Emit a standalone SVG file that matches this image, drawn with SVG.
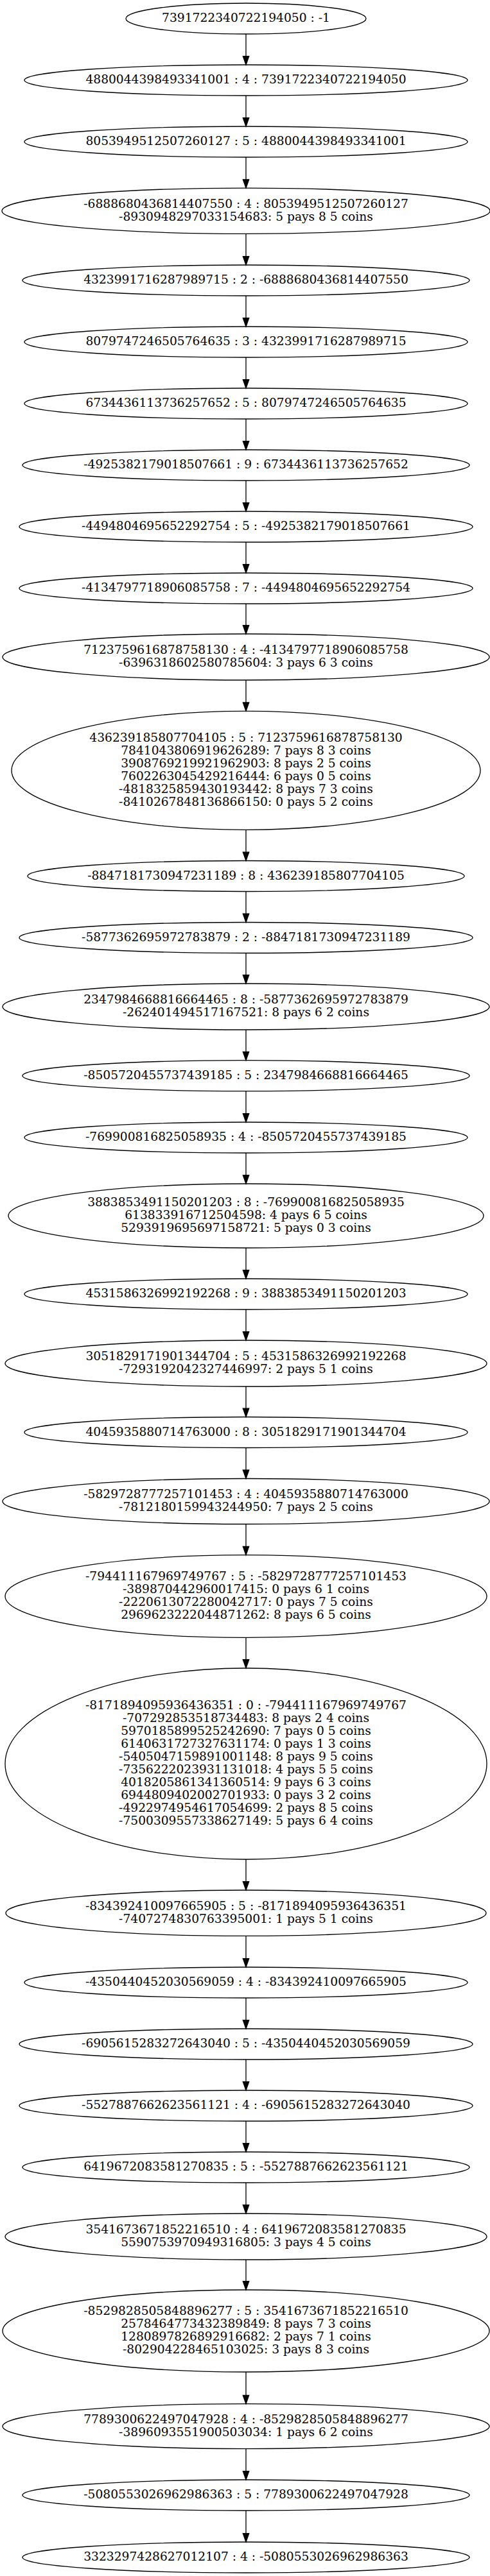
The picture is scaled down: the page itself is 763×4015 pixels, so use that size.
<svg xmlns="http://www.w3.org/2000/svg" width="763" height="4015" viewBox="0 0 763 4015">
<style>
.n ellipse{fill:none;stroke:#000;stroke-width:1.33}
.n text{font-family:"DejaVu Serif","Liberation Serif",serif;font-size:18.67px;text-anchor:middle;fill:#000}
.e path{fill:none;stroke:#000;stroke-width:1.33}
</style>
<defs>
<marker id="ah" markerUnits="userSpaceOnUse" markerWidth="14" markerHeight="10" refX="0" refY="4.67" orient="auto" overflow="visible">
<polygon points="0,0 13.3,4.67 0,9.33" fill="#000" stroke="#000" stroke-width="1.33"/>
</marker>
</defs>
<rect width="763" height="4015" fill="#fff"/>
<g id="edges" class="e">
<path d="M383,53V87.7" marker-end="url(#ah)"/>
<path d="M383,149V183.7" marker-end="url(#ah)"/>
<path d="M383,245V279.8" marker-end="url(#ah)"/>
<path d="M383,364.3V399.7" marker-end="url(#ah)"/>
<path d="M383,461V495.7" marker-end="url(#ah)"/>
<path d="M383,557V591.7" marker-end="url(#ah)"/>
<path d="M383,653V687.7" marker-end="url(#ah)"/>
<path d="M383,749V783.7" marker-end="url(#ah)"/>
<path d="M383,845V879.7" marker-end="url(#ah)"/>
<path d="M383,941V974.7" marker-end="url(#ah)"/>
<path d="M383,1060V1095" marker-end="url(#ah)"/>
<path d="M383,1293.3V1328.2" marker-end="url(#ah)"/>
<path d="M383,1389.5V1424.2" marker-end="url(#ah)"/>
<path d="M383,1485.5V1519.7" marker-end="url(#ah)"/>
<path d="M383,1605V1639.4" marker-end="url(#ah)"/>
<path d="M383,1700.7V1735.7" marker-end="url(#ah)"/>
<path d="M383,1797V1831.7" marker-end="url(#ah)"/>
<path d="M383,1945V1979.7" marker-end="url(#ah)"/>
<path d="M383,2041V2075.7" marker-end="url(#ah)"/>
<path d="M383,2161V2195.2" marker-end="url(#ah)"/>
<path d="M383,2256.5V2291.2" marker-end="url(#ah)"/>
<path d="M383,2375.5V2410.4" marker-end="url(#ah)"/>
<path d="M383,2552.3V2586.7" marker-end="url(#ah)"/>
<path d="M383,2898V2932.7" marker-end="url(#ah)"/>
<path d="M383,3017.4V3052.7" marker-end="url(#ah)"/>
<path d="M383,3114V3148.7" marker-end="url(#ah)"/>
<path d="M383,3210V3244.7" marker-end="url(#ah)"/>
<path d="M383,3306V3340.7" marker-end="url(#ah)"/>
<path d="M383,3402V3436.7" marker-end="url(#ah)"/>
<path d="M383,3522V3555.7" marker-end="url(#ah)"/>
<path d="M383,3697V3733.4" marker-end="url(#ah)"/>
<path d="M383,3816.7V3851.7" marker-end="url(#ah)"/>
<path d="M383,3913V3948.7" marker-end="url(#ah)"/>
</g>
<g id="n1" class="n"><ellipse cx="383" cy="29" rx="187" ry="24"/><text x="383" y="34.3">7391722340722194050 : -1</text></g>
<g id="n2" class="n"><ellipse cx="383" cy="125" rx="345" ry="24"/><text x="383" y="130.3">4880044398493341001 : 4 : 7391722340722194050</text></g>
<g id="n3" class="n"><ellipse cx="383" cy="221" rx="345" ry="24"/><text x="383" y="226.3">8053949512507260127 : 5 : 4880044398493341001</text></g>
<g id="n4" class="n"><ellipse cx="383" cy="328.7" rx="380" ry="35.6"/><text x="383" y="324">-6888680436814407550 : 4 : 8053949512507260127</text><text x="383" y="344">-8930948297033154683: 5 pays 8 5 coins</text></g>
<g id="n5" class="n"><ellipse cx="383" cy="437" rx="348" ry="24"/><text x="383" y="442.3">4323991716287989715 : 2 : -6888680436814407550</text></g>
<g id="n6" class="n"><ellipse cx="383" cy="533" rx="345" ry="24"/><text x="383" y="538.3">8079747246505764635 : 3 : 4323991716287989715</text></g>
<g id="n7" class="n"><ellipse cx="383" cy="629" rx="345" ry="24"/><text x="383" y="634.3">6734436113736257652 : 5 : 8079747246505764635</text></g>
<g id="n8" class="n"><ellipse cx="383" cy="725" rx="348" ry="24"/><text x="383" y="730.3">-4925382179018507661 : 9 : 6734436113736257652</text></g>
<g id="n9" class="n"><ellipse cx="383" cy="821" rx="353" ry="24"/><text x="383" y="826.3">-4494804695652292754 : 5 : -4925382179018507661</text></g>
<g id="n10" class="n"><ellipse cx="383" cy="917" rx="353" ry="24"/><text x="383" y="922.3">-4134797718906085758 : 7 : -4494804695652292754</text></g>
<g id="n11" class="n"><ellipse cx="383" cy="1024" rx="379" ry="36"/><text x="383" y="1019.3">7123759616878758130 : 4 : -4134797718906085758</text><text x="383" y="1039.3">-6396318602580785604: 3 pays 6 3 coins</text></g>
<g id="n12" class="n"><ellipse cx="383" cy="1200.8" rx="365" ry="92.5"/><text x="383" y="1156.1">436239185807704105 : 5 : 7123759616878758130</text><text x="383" y="1176.1">7841043806919626289: 7 pays 8 3 coins</text><text x="383" y="1196.1">3908769219921962903: 8 pays 2 5 coins</text><text x="383" y="1216.1">7602263045429216444: 6 pays 0 5 coins</text><text x="383" y="1236.1">-4818325859430193442: 8 pays 7 3 coins</text><text x="383" y="1256.1">-8410267848136866150: 0 pays 5 2 coins</text></g>
<g id="n13" class="n"><ellipse cx="383" cy="1365.5" rx="340" ry="24"/><text x="383" y="1370.8">-8847181730947231189 : 8 : 436239185807704105</text></g>
<g id="n14" class="n"><ellipse cx="383" cy="1461.5" rx="353" ry="24"/><text x="383" y="1466.8">-5877362695972783879 : 2 : -8847181730947231189</text></g>
<g id="n15" class="n"><ellipse cx="383" cy="1569" rx="379" ry="36"/><text x="383" y="1564.3">2347984668816664465 : 8 : -5877362695972783879</text><text x="383" y="1584.3">-262401494517167521: 8 pays 6 2 coins</text></g>
<g id="n16" class="n"><ellipse cx="383" cy="1676.7" rx="348" ry="24"/><text x="383" y="1682">-8505720455737439185 : 5 : 2347984668816664465</text></g>
<g id="n17" class="n"><ellipse cx="383" cy="1773" rx="345" ry="24"/><text x="383" y="1778.3">-769900816825058935 : 4 : -8505720455737439185</text></g>
<g id="n18" class="n"><ellipse cx="383" cy="1895" rx="370" ry="50"/><text x="383" y="1880.3">3883853491150201203 : 8 : -769900816825058935</text><text x="383" y="1900.3">613833916712504598: 4 pays 6 5 coins</text><text x="383" y="1920.3">5293919695697158721: 5 pays 0 3 coins</text></g>
<g id="n19" class="n"><ellipse cx="383" cy="2017" rx="345" ry="24"/><text x="383" y="2022.3">4531586326992192268 : 9 : 3883853491150201203</text></g>
<g id="n20" class="n"><ellipse cx="383" cy="2125" rx="375" ry="36"/><text x="383" y="2120.3">3051829171901344704 : 5 : 4531586326992192268</text><text x="383" y="2140.3">-7293192042327446997: 2 pays 5 1 coins</text></g>
<g id="n21" class="n"><ellipse cx="383" cy="2232.5" rx="345" ry="24"/><text x="383" y="2237.8">4045935880714763000 : 8 : 3051829171901344704</text></g>
<g id="n22" class="n"><ellipse cx="383" cy="2340" rx="379" ry="35.5"/><text x="383" y="2335.3">-5829728777257101453 : 4 : 4045935880714763000</text><text x="383" y="2355.3">-7812180159943244950: 7 pays 2 5 coins</text></g>
<g id="n23" class="n"><ellipse cx="383" cy="2488" rx="375" ry="64.3"/><text x="383" y="2463.3">-794411167969749767 : 5 : -5829728777257101453</text><text x="383" y="2483.3">-389870442960017415: 0 pays 6 1 coins</text><text x="383" y="2503.3">-2220613072280042717: 0 pays 7 5 coins</text><text x="383" y="2523.3">2969623222044871262: 8 pays 6 5 coins</text></g>
<g id="n24" class="n"><ellipse cx="383" cy="2749" rx="375" ry="149"/><text x="383" y="2664.3">-8171894095936436351 : 0 : -794411167969749767</text><text x="383" y="2684.3">-707292853518734483: 8 pays 2 4 coins</text><text x="383" y="2704.3">5970185899525242690: 7 pays 0 5 coins</text><text x="383" y="2724.3">6140631727327631174: 0 pays 1 3 coins</text><text x="383" y="2744.3">-5405047159891001148: 8 pays 9 5 coins</text><text x="383" y="2764.3">-7356222023931131018: 4 pays 5 5 coins</text><text x="383" y="2784.3">4018205861341360514: 9 pays 6 3 coins</text><text x="383" y="2804.3">6944809402002701933: 0 pays 3 2 coins</text><text x="383" y="2824.3">-4922974954617054699: 2 pays 8 5 coins</text><text x="383" y="2844.3">-7500309557338627149: 5 pays 6 4 coins</text></g>
<g id="n25" class="n"><ellipse cx="383" cy="2981.7" rx="374" ry="35.7"/><text x="383" y="2977">-834392410097665905 : 5 : -8171894095936436351</text><text x="383" y="2997">-7407274830763395001: 1 pays 5 1 coins</text></g>
<g id="n26" class="n"><ellipse cx="383" cy="3090" rx="345" ry="24"/><text x="383" y="3095.3">-4350440452030569059 : 4 : -834392410097665905</text></g>
<g id="n27" class="n"><ellipse cx="383" cy="3186" rx="353" ry="24"/><text x="383" y="3191.3">-6905615283272643040 : 5 : -4350440452030569059</text></g>
<g id="n28" class="n"><ellipse cx="383" cy="3282" rx="353" ry="24"/><text x="383" y="3287.3">-5527887662623561121 : 4 : -6905615283272643040</text></g>
<g id="n29" class="n"><ellipse cx="383" cy="3378" rx="348" ry="24"/><text x="383" y="3383.3">6419672083581270835 : 5 : -5527887662623561121</text></g>
<g id="n30" class="n"><ellipse cx="383" cy="3486" rx="375" ry="36"/><text x="383" y="3481.3">3541673671852216510 : 4 : 6419672083581270835</text><text x="383" y="3501.3">5590753970949316805: 3 pays 4 5 coins</text></g>
<g id="n31" class="n"><ellipse cx="383" cy="3633" rx="379" ry="64"/><text x="383" y="3608.3">-8529828505848896277 : 5 : 3541673671852216510</text><text x="383" y="3628.3">2578464773432389849: 8 pays 7 3 coins</text><text x="383" y="3648.3">1280897826892916682: 2 pays 7 1 coins</text><text x="383" y="3668.3">-802904228465103025: 3 pays 8 3 coins</text></g>
<g id="n32" class="n"><ellipse cx="383" cy="3781.7" rx="379" ry="35"/><text x="383" y="3777">7789300622497047928 : 4 : -8529828505848896277</text><text x="383" y="3797">-3896093551900503034: 1 pays 6 2 coins</text></g>
<g id="n33" class="n"><ellipse cx="383" cy="3889" rx="348" ry="24"/><text x="383" y="3894.3">-5080553026962986363 : 5 : 7789300622497047928</text></g>
<g id="n34" class="n"><ellipse cx="383" cy="3986" rx="348" ry="24"/><text x="383" y="3991.3">3323297428627012107 : 4 : -5080553026962986363</text></g>
</svg>
